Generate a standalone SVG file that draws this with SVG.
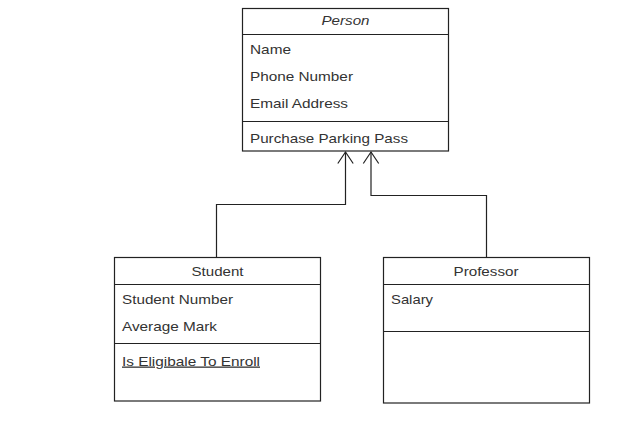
<svg xmlns="http://www.w3.org/2000/svg" width="639" height="427" viewBox="0 0 639 427">
<defs>
<style>
.box{fill:#fff;stroke:#222;stroke-width:1.2}
.ln{stroke:#222;stroke-width:1.2;fill:none}
.t{font-family:"Liberation Sans",Arial,sans-serif;font-size:13px;fill:#333}
.c{text-anchor:middle}
.conn{stroke:#222;stroke-width:1.2;fill:none}
</style>
</defs>
<rect width="639" height="427" fill="#fff"/>
<g id="person">
<rect class="box" x="242.5" y="8.5" width="206" height="142.5"/>
<line class="ln" x1="242.5" y1="34.5" x2="448.5" y2="34.5"/>
<line class="ln" x1="242.5" y1="121.5" x2="448.5" y2="121.5"/>
<text class="t c" x="345.5" y="25" font-style="italic" textLength="48" lengthAdjust="spacingAndGlyphs">Person</text>
<text class="t" x="250" y="53.5" textLength="41" lengthAdjust="spacingAndGlyphs">Name</text>
<text class="t" x="250" y="80.5" textLength="103" lengthAdjust="spacingAndGlyphs">Phone Number</text>
<text class="t" x="250" y="107.5" textLength="98" lengthAdjust="spacingAndGlyphs">Email Address</text>
<text class="t" x="250" y="142.5" textLength="158" lengthAdjust="spacingAndGlyphs">Purchase Parking Pass</text>
</g>
<g id="student">
<rect class="box" x="114.5" y="257.5" width="206" height="143.5"/>
<line class="ln" x1="114.5" y1="284.5" x2="320.5" y2="284.5"/>
<line class="ln" x1="114.5" y1="343.5" x2="320.5" y2="343.5"/>
<text class="t c" x="217.5" y="276" textLength="52" lengthAdjust="spacingAndGlyphs">Student</text>
<text class="t" x="122" y="303.5" textLength="111" lengthAdjust="spacingAndGlyphs">Student Number</text>
<text class="t" x="122" y="330.5" textLength="95" lengthAdjust="spacingAndGlyphs">Average Mark</text>
<text class="t" x="122" y="365.5" text-decoration="underline" textLength="138" lengthAdjust="spacingAndGlyphs">Is Eligibale To Enroll</text>
</g>
<g id="professor">
<rect class="box" x="383.5" y="257.5" width="206" height="145.5"/>
<line class="ln" x1="383.5" y1="284.5" x2="589.5" y2="284.5"/>
<line class="ln" x1="383.5" y1="331.5" x2="589.5" y2="331.5"/>
<text class="t c" x="486" y="276" textLength="65" lengthAdjust="spacingAndGlyphs">Professor</text>
<text class="t" x="391" y="303.5" textLength="42" lengthAdjust="spacingAndGlyphs">Salary</text>
</g>
<g id="connectors">
<path class="conn" d="M216.5,257.5 V204.5 H345.5 V152"/>
<path class="conn" d="M337.8,163.5 L345.5,152 L353.2,163.5"/>
<path class="conn" d="M486.5,257.5 V195.5 H371 V152"/>
<path class="conn" d="M363.3,163.5 L371,152 L378.7,163.5"/>
</g>
</svg>
